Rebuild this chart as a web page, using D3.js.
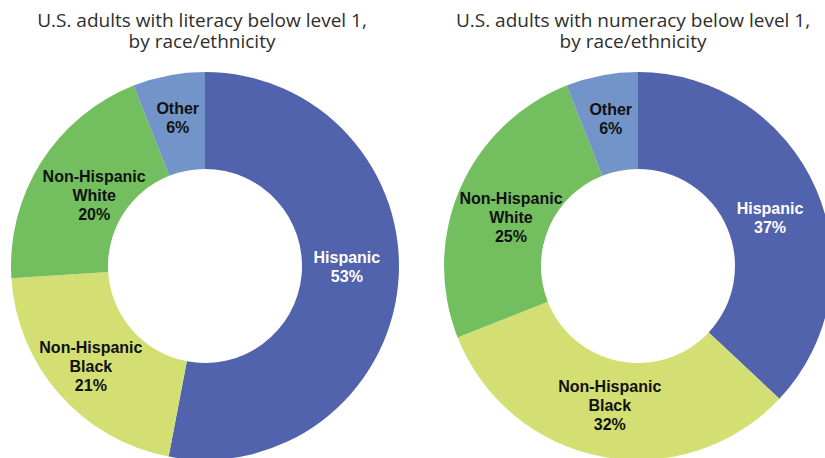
<!DOCTYPE html>
<html>
<head>
<meta charset="utf-8">
<script src="https://cdn.jsdelivr.net/npm/d3@7"></script>
<style>
  html, body { margin: 0; padding: 0; background: #fff; }
  svg { display: block; }
</style>
</head>
<body>
<svg id="chart" width="825" height="458"></svg>
<script>
// ---- data ----
const categories = ["Hispanic", "Non-Hispanic Black", "Non-Hispanic White", "Other"];
const labelLines = [["Hispanic"], ["Non-Hispanic", "Black"], ["Non-Hispanic", "White"], ["Other"]];
const literacyValues = [53, 21, 20, 6];
const numeracyValues = [37, 32, 25, 6];
const titles = [
  ["U.S. adults with literacy below level 1,", "by race/ethnicity"],
  ["U.S. adults with numeracy below level 1,", "by race/ethnicity"]
];

// ---- styles / layout ----
const colors = ["#5263ad", "#d4df73", "#73bf5f", "#7394c9"];
const textColors = ["#ffffff", "#111111", "#111111", "#111111"];
const W = 825, H = 458;
const outerR = 194, innerR = 97;
const centers = [[205, 266], [638, 266]];
const titleX = [202, 633];
// small label nudges (Excel best-fit placement)
const nudges = [
  [[-3, -12.5], [-5, 4], [12, 7], [0, -5]],
  [[-1.5, 9.5], [-1, -4], [6.5, 9.5], [0, -4.5]]
];

const svg = d3.select("#chart");
const color = d3.scaleOrdinal().domain(categories).range(colors);
const textColor = d3.scaleOrdinal().domain(categories).range(textColors);
const pie = d3.pie().sort(null).value(d => d.value);
const arc = d3.arc().innerRadius(innerR).outerRadius(outerR);

[literacyValues, numeracyValues].forEach((vals, ci) => {
  const data = categories.map((c, i) => ({ cat: c, value: vals[i], lines: labelLines[i].concat([vals[i] + "%"]) }));
  const arcs = pie(data);

  // title (one text element per line)
  titles[ci].forEach((line, li) => {
    svg.append("text")
      .attr("x", titleX[ci]).attr("y", 27 + li * 20.5)
      .attr("text-anchor", "middle")
      .style("font-family", "'Open Sans', 'Noto Sans', sans-serif")
      .style("font-size", "19px")
      .style("fill", "#2e2e2e")
      .text(line);
  });

  const g = svg.append("g").attr("transform", `translate(${centers[ci][0]},${centers[ci][1]})`);
  g.selectAll("path.slice").data(arcs).enter().append("path")
    .attr("class", "slice")
    .attr("d", arc)
    .attr("fill", d => color(d.data.cat));

  arcs.forEach((d, i) => {
    const [cx, cy] = arc.centroid(d);
    const nx = cx + nudges[ci][i][0], ny = cy + nudges[ci][i][1];
    const n = d.data.lines.length;
    d.data.lines.forEach((s, k) => {
      g.append("text")
        .attr("class", "lbl")
        .attr("text-anchor", "middle")
        .attr("x", nx)
        .attr("y", ny + (k - (n - 1) / 2) * 19 + 5.7)
        .style("font-family", "'Liberation Sans', Arial, sans-serif")
        .style("font-weight", "bold")
        .style("font-size", "16px")
        .style("fill", textColor(d.data.cat))
        .text(s);
    });
  });
});
</script>
</body>
</html>
